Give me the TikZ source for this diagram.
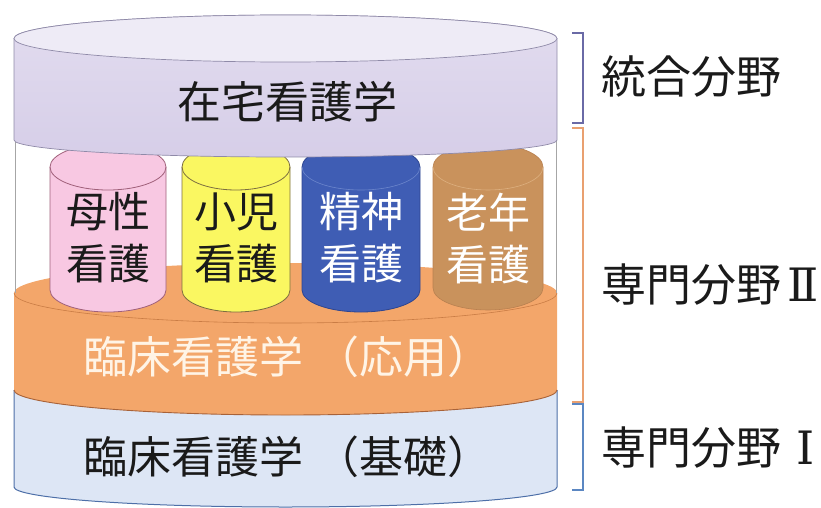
\documentclass[tikz,border=0pt]{standalone}
\usepackage{fontspec}
\newfontfamily\jp{Noto Sans CJK JP}
\newfontfamily\rnfont{DejaVu Serif}
\definecolor{lavbody}{HTML}{E2DCEF}
\definecolor{lavbot}{HTML}{D6CEE8}
\definecolor{lavtop}{HTML}{EEEBF6}
\definecolor{lavline}{HTML}{8F8AA8}
\definecolor{pinkf}{HTML}{F8C8E2}
\definecolor{pinkl}{HTML}{A0607A}
\definecolor{yelf}{HTML}{FAF761}
\definecolor{yell}{HTML}{7C6E40}
\definecolor{bluef}{HTML}{3F5DB4}
\definecolor{bluel}{HTML}{2E4590}
\definecolor{bluearc}{HTML}{6C86CC}
\definecolor{tanf}{HTML}{C9925C}
\definecolor{tanl}{HTML}{B88050}
\definecolor{tanarc}{HTML}{DDB080}
\definecolor{orf}{HTML}{F3A66A}
\definecolor{orarc}{HTML}{C97C45}
\definecolor{orbot}{HTML}{A86238}
\definecolor{basef}{HTML}{DDE6F5}
\definecolor{basel}{HTML}{4D6FA8}
\definecolor{ortext}{HTML}{FFF4E6}
\definecolor{brpur}{HTML}{6A6AA6}
\definecolor{bror}{HTML}{E9A070}
\definecolor{brblue}{HTML}{5B87C2}
\definecolor{txtdark}{HTML}{1A1A1A}
\newcommand\mycyl[7]{%
  \path[#7] ({#1-#2},#3) -- ({#1-#2},#5)
    arc[start angle=180,end angle=360,x radius=#2,y radius=#6]
    -- ({#1+#2},#3)
    arc[start angle=0,end angle=180,x radius=#2,y radius=#4] -- cycle;}
\newcommand\myfront[5]{% cx rx Y ry style
  \draw[#5] ({#1-#2},#3) arc[start angle=180,end angle=360,x radius=#2,y radius=#4];}
\newcommand\romanpart[1]{{\rnfont\fontsize{46}{46}\selectfont #1}}
\tikzset{
  bigtxt/.style={font=\jp\fontsize{44}{50}\selectfont, inner sep=0pt, text=txtdark},
  labeltxt/.style={font=\jp\fontsize{45}{50}\selectfont, inner sep=0pt, text=txtdark, anchor=base west},
  smalltxt/.style={font=\jp\fontsize{42}{52}\selectfont, inner sep=0pt, align=center},
  brk/.style={line width=1.2pt}
}
\begin{document}
\begin{tikzpicture}[x=1pt,y=1pt]
\useasboundingbox (0,0) rectangle (821,507);
% base cylinder
\mycyl{285.5}{271.5}{117}{25}{20}{20}{fill=basef}
\draw[basel, line width=1pt] (14,117) -- (14,20) arc[start angle=180,end angle=360,x radius=271.5,y radius=20] -- (557,117);
% orange cylinder
\mycyl{285.5}{271.5}{214}{30}{117}{25}{fill=orf}
\myfront{285.5}{271.5}{117}{25}{orbot, line width=0.9pt}
\myfront{285.5}{271.5}{214}{30}{orarc, line width=0.6pt}
% outer outline
\draw[gray!70, line width=0.5pt] (15,367) -- (15,214);
\draw[gray!70, line width=0.5pt] (556,367) -- (556,214);
% small cylinders
\mycyl{108}{58}{340}{23}{217}{22}{fill=pinkf, draw=pinkl, line width=0.8pt}
\myfront{108}{58}{340}{23}{pinkl, line width=0.8pt}
\mycyl{236}{54}{340}{23}{217}{22}{fill=yelf, draw=yell, line width=0.8pt}
\myfront{236}{54}{340}{23}{yell, line width=0.8pt}
\mycyl{361}{59}{340}{23}{217}{22}{fill=bluef, draw=bluel, line width=0.8pt}
\myfront{361}{59}{340}{23}{bluearc, line width=0.6pt}
\mycyl{488}{55}{340}{23}{219}{22}{fill=tanf, draw=tanl, line width=0.6pt}
\myfront{488}{55}{340}{23}{tanarc, line width=0.6pt}
% top lavender cylinder
\mycyl{285.5}{271.5}{468.5}{23.5}{367}{17}{top color=lavbody, bottom color=lavbot, draw=lavline, line width=0.7pt}
\draw[lavline, fill=lavtop, line width=0.7pt] (285.5,468.5) ellipse[x radius=271.5, y radius=23.5];
% texts
\node[bigtxt] (zaitaku) at (287,405) {在宅看護学};
\node[smalltxt, text=txtdark] (bosei) at (108,269) {母性\\看護};
\node[smalltxt, text=txtdark] (shoni) at (236,269) {小児\\看護};
\node[smalltxt, text=white] (seishin) at (361,269) {精神\\看護};
\node[smalltxt, text=white] (rounen) at (488,269) {老年\\看護};
\node[bigtxt, text=ortext, anchor=west] (ouyou) at (83,150) {臨床看護学\hspace{12pt}（応用）};
\node[bigtxt, anchor=west] (kiso) at (83,50) {臨床看護学\hspace{12pt}（基礎）};
% brackets
\draw[brk, brpur] (572,474) -- (583,474) -- (583,384) -- (572,384);
\draw[brk, bror] (572,379) -- (583,379) -- (583,105) -- (572,105);
\draw[brk, brblue] (572,103) -- (583,103) -- (583,17) -- (572,17);
% labels
\node[labeltxt] (tougou) at (601,413) {統合分野};
\node[labeltxt] (senmon2) at (601,206) {専門分野\hspace{6pt}\romanpart{Ⅱ}};
\node[labeltxt] (senmon1) at (601,43) {専門分野\hspace{15pt}\romanpart{Ⅰ}};
\end{tikzpicture}
\end{document}
